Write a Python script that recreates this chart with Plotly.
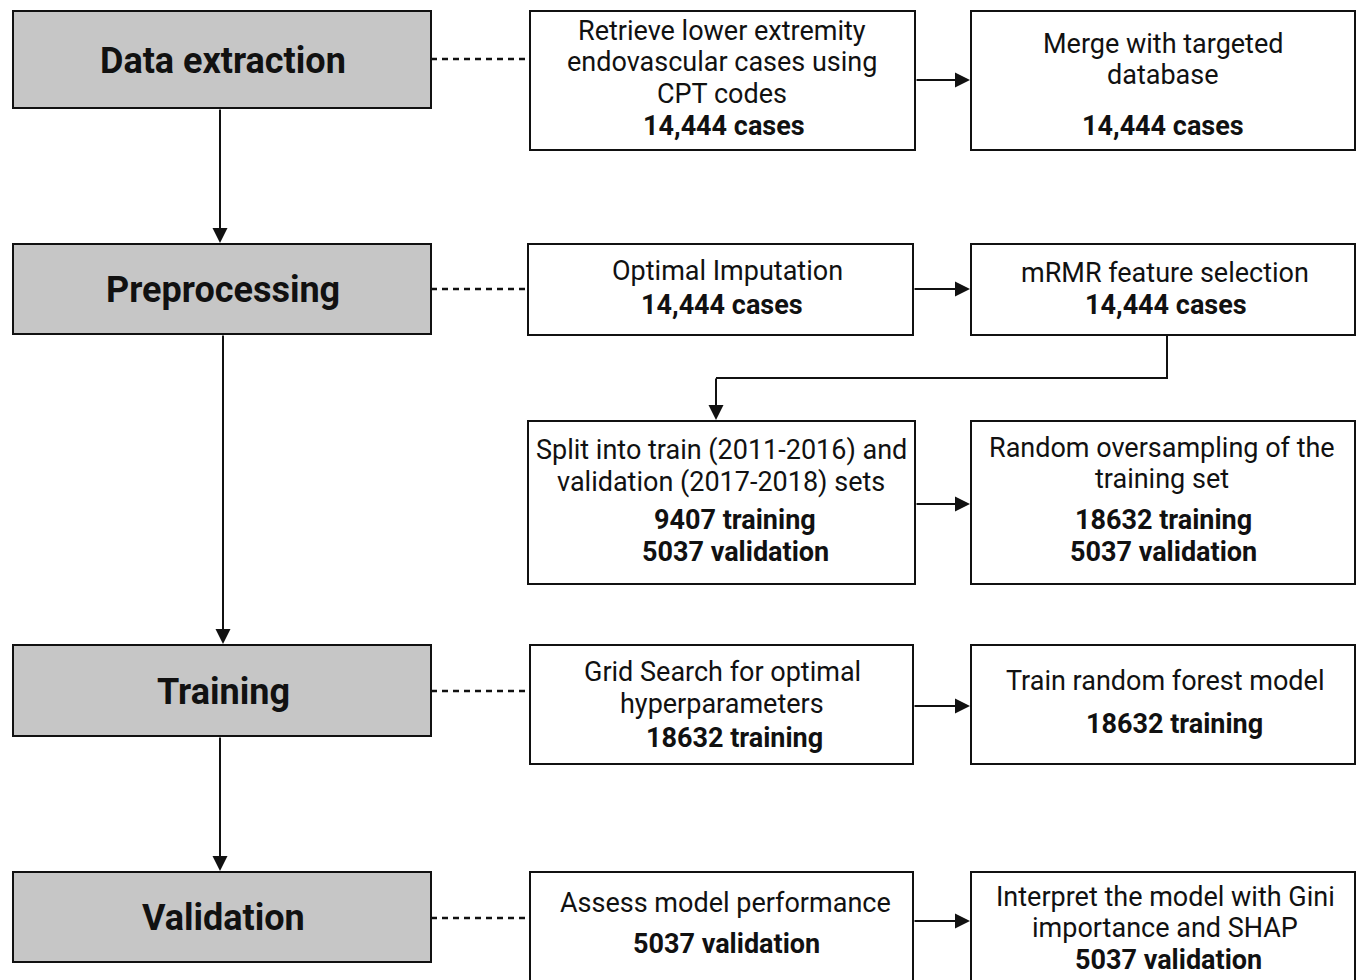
import plotly.graph_objects as go

W, H = 1357, 980

# ---- data (text content) ----
stage_labels = ["Data extraction", "Preprocessing", "Training", "Validation"]
stage_boxes = [(13, 11, 431, 108), (13, 244, 431, 334), (13, 645, 431, 736), (13, 872, 431, 962)]

step_boxes = [
    (530, 11, 915, 150), (971, 11, 1355, 150),
    (528, 244, 913, 335), (971, 244, 1355, 335),
    (528, 421, 915, 584), (971, 421, 1355, 584),
    (530, 645, 913, 764), (971, 645, 1355, 764),
    (530, 872, 913, 990), (971, 872, 1355, 990),
]
step_descriptions = [
    ["Retrieve lower extremity", "endovascular cases using", "CPT codes"],
    ["Merge with targeted", "database"],
    ["Optimal Imputation"],
    ["mRMR feature selection"],
    ["Split into train (2011-2016) and", "validation (2017-2018) sets"],
    ["Random oversampling of the", "training set"],
    ["Grid Search for optimal", "hyperparameters"],
    ["Train random forest model"],
    ["Assess model performance"],
    ["Interpret the model with Gini", "importance and SHAP"],
]
step_counts = [
    ["14,444 cases"], ["14,444 cases"],
    ["14,444 cases"], ["14,444 cases"],
    ["9407 training", "5037 validation"], ["18632 training", "5037 validation"],
    ["18632 training"], ["18632 training"],
    ["5037 validation"], ["5037 validation"],
]
# text line positions (y of each line center), and x center
desc_y = [[31, 62, 94], [44, 75], [271], [273], [450, 482], [448, 479], [672, 704], [681], [903], [897, 928]]
count_y = [[126], [126], [305], [305], [520, 552], [520, 552], [738], [724], [944], [960]]
desc_x = [722, 1163, 727, 1165, 721, 1162, 722, 1165, 725, 1165]
count_x = [724, 1163, 722, 1166, 735, 1163, 734, 1174, 726, 1168]

fig = go.Figure()
shapes = []
ann = []
FONT = "Roboto, Arial, sans-serif"
FS = 27

for (x0, y0, x1, y1), lab in zip(stage_boxes, stage_labels):
    shapes.append(dict(type="rect", x0=x0, y0=y0, x1=x1, y1=y1, xref="x", yref="y",
                       fillcolor="#c6c6c6", line=dict(color="#111111", width=2)))
    ann.append(dict(x=(x0 + x1) / 2 + 1, y=(y0 + y1) / 2 + 1, text="<b>" + lab + "</b>", showarrow=False,
                    font=dict(family=FONT, size=36, color="#111111"), xref="x", yref="y"))

for i, (x0, y0, x1, y1) in enumerate(step_boxes):
    shapes.append(dict(type="rect", x0=x0, y0=y0, x1=x1, y1=y1, xref="x", yref="y",
                       fillcolor="white", line=dict(color="#111111", width=2)))
    for t, yy in zip(step_descriptions[i], desc_y[i]):
        ann.append(dict(x=desc_x[i], y=yy, text=t, showarrow=False, xref="x", yref="y",
                        font=dict(family=FONT, size=FS, color="#111111")))
    for t, yy in zip(step_counts[i], count_y[i]):
        ann.append(dict(x=count_x[i], y=yy, text="<b>" + t + "</b>", showarrow=False, xref="x", yref="y",
                        font=dict(family=FONT, size=FS, color="#111111")))

# dashed connectors
for y in [59, 289, 691, 918]:
    shapes.append(dict(type="line", x0=431, x1=529, y0=y, y1=y, xref="x", yref="y",
                       line=dict(color="#111111", width=2.5, dash="6px,5px")))

def arrow(x0, y0, x1, y1):
    ann.append(dict(x=x1, y=y1, ax=x0, ay=y0, xref="x", yref="y", axref="x", ayref="y",
                    showarrow=True, arrowhead=2, arrowsize=1.5, arrowwidth=2,
                    arrowcolor="#111111", text=""))

# vertical stage arrows
arrow(220, 108, 220, 243)
arrow(223, 334, 223, 644)
arrow(220, 736, 220, 871)
# horizontal step arrows
arrow(915, 80, 970, 80)
arrow(913, 289, 970, 289)
arrow(915, 504, 970, 504)
arrow(913, 706, 970, 706)
arrow(913, 921, 970, 921)
# elbow
shapes.append(dict(type="path", path="M 1167 335 L 1167 378 L 716 378", xref="x", yref="y",
                   line=dict(color="#111111", width=2)))
arrow(716, 377, 716, 420)

fig.update_layout(
    width=W, height=H, margin=dict(l=0, r=0, t=0, b=0),
    paper_bgcolor="white", plot_bgcolor="white",
    xaxis=dict(range=[0, W], visible=False, fixedrange=True),
    yaxis=dict(range=[H, 0], visible=False, fixedrange=True),
    shapes=shapes, annotations=ann, showlegend=False,
)
fig.write_html("out.html", config={"displayModeBar": False},
               post_script="document.body.style.margin='0';document.body.style.overflow='hidden';")
